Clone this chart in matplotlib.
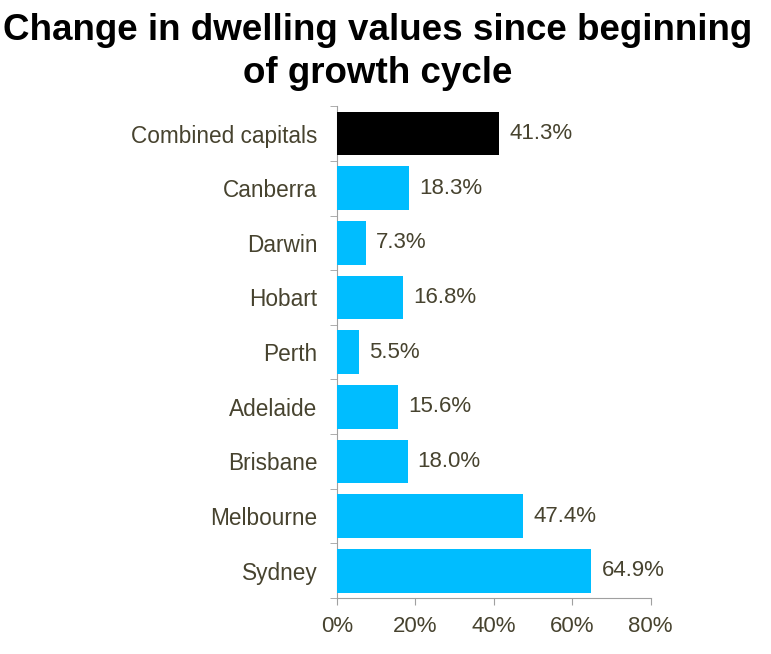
import matplotlib.pyplot as plt
from matplotlib.ticker import FuncFormatter

# данные с картинки
cities = ['Combined capitals', 'Canberra', 'Darwin', 'Hobart', 'Perth',
          'Adelaide', 'Brisbane', 'Melbourne', 'Sydney']
change = [41.3, 18.3, 7.3, 16.8, 5.5, 15.6, 18.0, 47.4, 64.9]
colors = ['black'] + ['#00bdff'] * 8

text_color = '#47432f'
plt.rcParams['font.family'] = ['Liberation Sans', 'DejaVu Sans']

fig = plt.figure(figsize=(7.71, 6.54), dpi=100)
ax = fig.add_axes([0.437, 0.0856, 0.407, 0.752])

pos = list(range(len(cities)))[::-1]
ax.barh(pos, change, height=0.8, color=colors, zorder=3)

for y, v in zip(pos, change):
    ax.text(v + 2.6, y, f'{v:.1f}%', va='center', ha='left',
            fontsize=16, color=text_color)

ax.set_xlim(0, 80)
ax.set_ylim(-0.5, len(cities) - 0.5)
ax.set_xticks([0, 20, 40, 60, 80])
ax.xaxis.set_major_formatter(FuncFormatter(lambda x, p: f'{x:.0f}%'))
ax.set_yticks(pos)
ax.set_yticklabels(cities)
ax.set_yticks([p + 0.5 for p in range(-1, len(cities))], minor=True)
ax.tick_params(axis='y', which='major', length=0, pad=14,
               labelsize=16.3, labelcolor=text_color)
ax.tick_params(axis='y', which='minor', length=5, color='#a0a0a0')
ax.tick_params(axis='x', length=5, color='#a0a0a0', pad=8,
               labelsize=16, labelcolor=text_color)

for s in ['top', 'right']:
    ax.spines[s].set_visible(False)
for s in ['left', 'bottom']:
    ax.spines[s].set_color('#a0a0a0')

# заголовок в две строки
fig.text(0.49, 0.939, 'Change in dwelling values since beginning',
         ha='center', va='baseline', fontsize=26.5, fontweight='bold')
fig.text(0.49, 0.873, 'of growth cycle',
         ha='center', va='baseline', fontsize=26.5, fontweight='bold')

fig.savefig('out.png', dpi=100)
